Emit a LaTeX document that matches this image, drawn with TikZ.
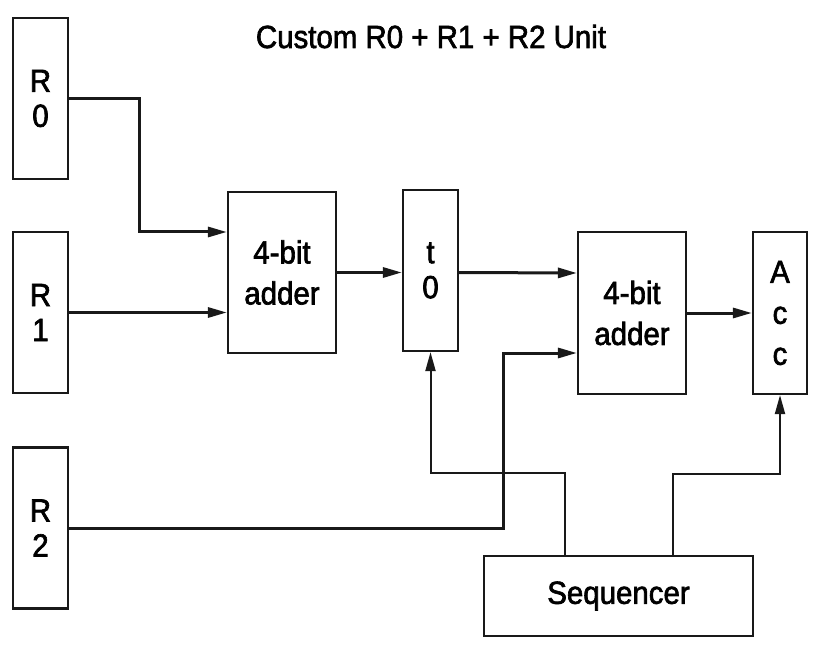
\documentclass[tikz,border=0pt]{standalone}
\usepackage{fontspec}
\setmainfont{Liberation Sans}[FakeStretch=0.92,FakeBold=2]
\usetikzlibrary{arrows.meta,calc}
\begin{document}
\begin{tikzpicture}[x=1pt,y=-1pt,
  box/.style={draw=black!90,line width=2.2pt,inner sep=0pt,align=center,
    font=\fontsize{32}{41}\selectfont},
  reg/.style={box,minimum width=55pt,minimum height=161pt,
    font=\fontsize{32}{35}\selectfont},
  adder/.style={box,minimum width=108pt,minimum height=161pt},
  main/.style={draw=black!90,line width=3pt,-{Triangle[length=19pt,width=10pt]}},
  ctrl/.style={draw=black!90,line width=2pt,-{Triangle[length=19pt,width=10pt]}}
]
\useasboundingbox (0,0) rectangle (814,647);
\node[anchor=base,font=\fontsize{32}{38}\selectfont] (title) at (431,48) {Custom R0 + R1 + R2 Unit};
\node[reg] (R0) at (40.5,98.5) {R\\0};
\node[reg] (R1) at (40.5,312.5) {R\\1};
\node[reg] (R2) at (40.5,528) {R\\2};
\node[adder] (A1) at (282,272.5) {4-bit\\adder};
\node[reg] (T0) at (430.5,270.5) {t\\0};
\node[adder,minimum height=162pt] (A2) at (632,313) {4-bit\\adder};
\node[box,minimum width=54pt,minimum height=162pt] (Acc) at (780,313) {A\\c\\c};
\node[box,minimum width=269pt,minimum height=80pt] (Seq) at (618.5,596) {Sequencer};
% data paths
\draw[main] (R0.east) -- ++(70,0) |- ([yshift=40.5pt]A1.west);
\draw[main] (R1.east) -- (R1.east -| A1.west);
\draw[main] (A1.east) -- (A1.east -| T0.west);
\draw[main] ([yshift=-2pt]T0.east) -- ([yshift=40pt]A2.west);
\draw[main] (R2.east) -- ++(434,0) |- ([yshift=-40pt]A2.west);
\draw[main] (A2.east) -- (Acc.west);
% control paths
\draw[ctrl] ([xshift=-53.5pt]Seq.north) -- ++(0,-82) -| (T0.south);
\draw[ctrl] ([xshift=54pt]Seq.north) -- ++(0,-81) -| (Acc.south);
\end{tikzpicture}
\end{document}
